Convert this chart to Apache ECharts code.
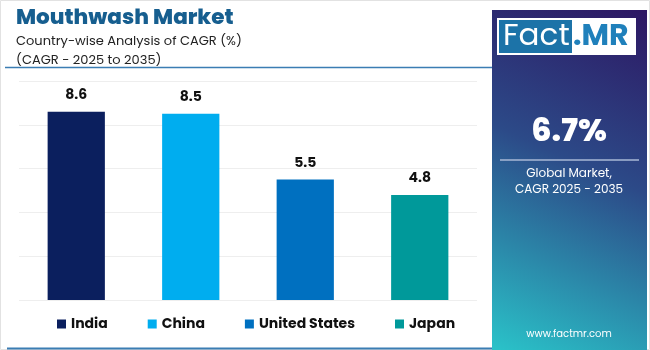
<!DOCTYPE html>
<html><head><meta charset="utf-8">
<script src="https://cdn.jsdelivr.net/npm/echarts@6/dist/echarts.min.js"></script>
<style>html,body{margin:0;padding:0;background:#fff}#c{width:650px;height:350px}</style>
</head><body><div id="c"></div>
<script>
const categories = ['India', 'China', 'United States', 'Japan'];
const values = [8.6, 8.5, 5.5, 4.8];
const colors = ['#0b1f5e', '#00adef', '#0070c0', '#00999a'];
const globalCagr = '6.7%';

const chart = echarts.init(document.getElementById('c'));
const ff = 'Poppins, Inter, "Noto Sans", sans-serif';
chart.setOption({
  animation: false,
  title: [
    {text: 'Mouthwash Market', left: 11, top: 3, textStyle: {fontFamily: ff, fontSize: 21.5, fontWeight: 800, color: '#165e8f'}},
    {text: 'Country-wise Analysis of CAGR (%)\n(CAGR - 2025 to 2035)', left: 11, top: 27,
     textStyle: {fontFamily: ff, fontSize: 13, fontWeight: 400, color: '#222', lineHeight: 19}}
  ],
  grid: {left: 19, right: 173, top: 81, bottom: 50},
  xAxis: {type: 'category', data: categories, axisLine: {show: false}, axisTick: {show: false}, axisLabel: {show: false}},
  yAxis: {type: 'value', min: 0, max: 10, interval: 2, axisLabel: {show: false},
          splitLine: {lineStyle: {color: '#eeeeee', width: 1}}},
  legend: {left: 52, top: 312, itemWidth: 9, itemHeight: 9, itemGap: 40, icon: 'rect',
           textStyle: {fontFamily: ff, fontSize: 14, fontWeight: 700, color: '#111'},
           data: categories},
  series: categories.map((c, i) => ({
    name: c, type: 'bar', stack: 's', barWidth: '50%',
    data: categories.map((_, j) => j === i ? values[i] : null),
    itemStyle: {color: colors[i]},
    label: {show: true, position: 'top', distance: 9, fontFamily: ff, fontSize: 14, fontWeight: 700, color: '#111'}
  })),
  graphic: [
    {type: 'rect', shape: {x: 0.5, y: 0.5, width: 649, height: 349}, style: {fill: 'none', stroke: '#e2e2e2', lineWidth: 1}, z: -1},
    {type: 'line', shape: {x1: 5, y1: 67.5, x2: 492, y2: 67.5}, style: {stroke: '#3b7db3', lineWidth: 1.5}},
    {type: 'line', shape: {x1: 7, y1: 348.5, x2: 492, y2: 348.5}, style: {stroke: '#3b7db3', lineWidth: 2}},
    {type: 'rect', shape: {x: 492, y: 10, width: 155, height: 340},
     style: {fill: new echarts.graphic.LinearGradient(1, 0, 0, 1, [
       {offset: 0, color: '#2d1763'}, {offset: 0.45, color: '#2c4a88'}, {offset: 1, color: '#2ac3c9'}])}},
    {type: 'rect', shape: {x: 497, y: 18, width: 139, height: 37}, style: {fill: '#ffffff'}},
    {type: 'rect', shape: {x: 499, y: 20, width: 73, height: 33}, style: {fill: '#1c73a8'}},
    {type: 'text', style: {x: 503, y: 37, text: 'Fact', fontFamily: ff, fontSize: 31, fontWeight: 400, fill: '#fff', verticalAlign: 'middle'}},
    {type: 'text', style: {x: 573, y: 37, text: '.MR', fontFamily: ff, fontSize: 30, fontWeight: 700, fill: '#1f80bb', verticalAlign: 'middle'}},
    {type: 'text', style: {x: 569, y: 133, text: globalCagr, fontFamily: ff, fontSize: 32, fontWeight: 800, fill: '#fff', align: 'center', verticalAlign: 'middle'}},
    {type: 'line', shape: {x1: 500, y1: 160, x2: 639, y2: 160}, style: {stroke: '#a9b8d6', lineWidth: 1.5}},
    {type: 'text', style: {x: 569, y: 182, text: 'Global Market,\nCAGR 2025 - 2035', fontFamily: ff, fontSize: 12, lineHeight: 16, fill: '#fff', align: 'center', verticalAlign: 'middle'}},
    {type: 'text', style: {x: 569, y: 334, text: 'www.factmr.com', fontFamily: ff, fontSize: 10, fill: '#fff', align: 'center', verticalAlign: 'middle'}}
  ]
});
</script></body></html>
